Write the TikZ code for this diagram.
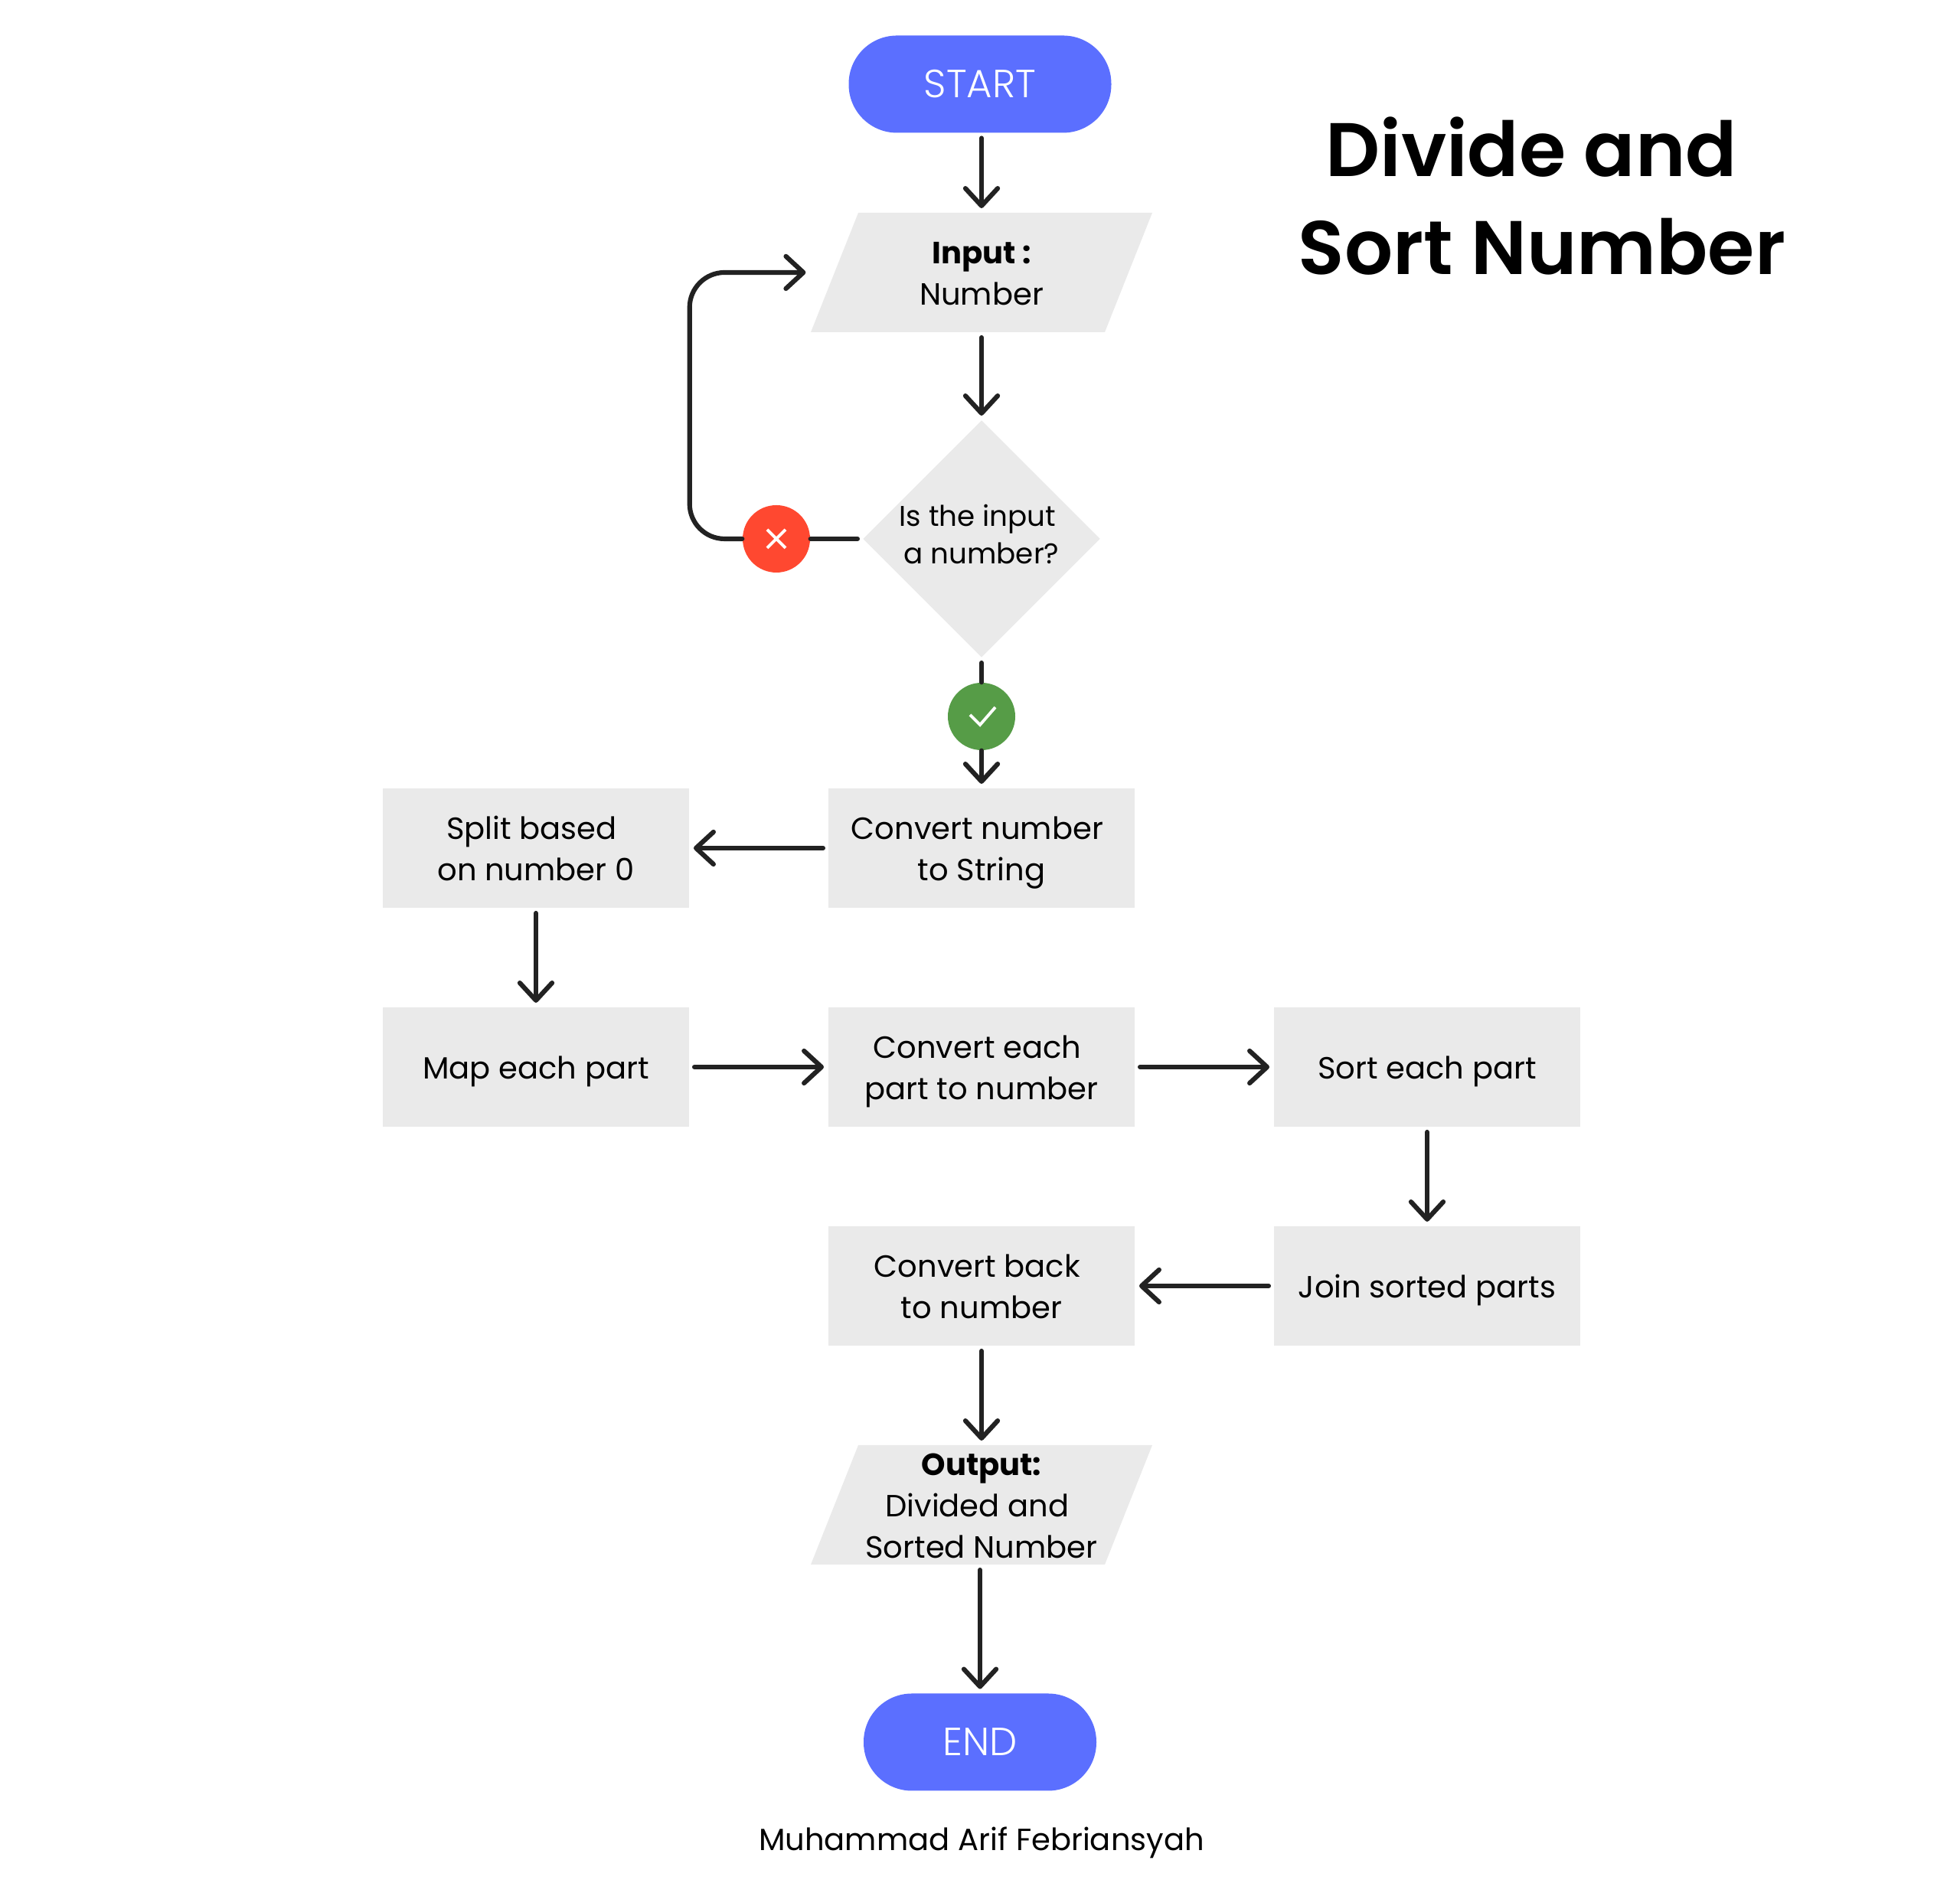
\documentclass[tikz,border=0pt]{standalone}
\usepackage{fontspec}
\setmainfont{Poppins}
\newfontfamily\pillfont{Poppins Light}
\newfontfamily\titlefont{Poppins SemiBold}
\usetikzlibrary{shapes.geometric,arrows.meta}
\definecolor{pillblue}{HTML}{5B6FFF}
\definecolor{boxgray}{HTML}{EAEAEA}
\definecolor{linedark}{HTML}{222222}
\definecolor{nored}{HTML}{FF4830}
\definecolor{yesgreen}{HTML}{569C47}
\newcommand{\trailgap}{\kern.28em}
\newcommand{\topline}{\vrule width0pt height 12.2pt depth 0pt}
\newcommand{\botline}{\vrule width0pt height 0pt depth 3.5pt}
\tikzset{
    flowtext/.style={text=black,align=center,inner sep=0,font=\fontsize{11.4}{15.4}\selectfont},
    pill/.style={flowtext,fill=pillblue,text=white,rounded corners=6.3mm,minimum height=1.27cm,font=\fontsize{14.6}{16}\selectfont\pillfont},
    procbox/.style={flowtext,fill=boxgray,minimum width=4cm,minimum height=1.56cm},
    iobox/.style={flowtext,inner ysep=-2.5pt,minimum width=3.84cm,minimum height=1.56cm},
    decisionbox/.style={flowtext,fill=boxgray,diamond,inner sep=-2pt,minimum width=3.1cm,minimum height=3.1cm,font=\fontsize{10.6}{14}\selectfont},
    badge/.style={circle,inner sep=0,minimum size=0.88cm},
    flowline/.style={draw=linedark,line width=1.75pt,line cap=round,shorten <=1.8pt},
    flowarrow/.style={flowline,-{Straight Barb[length=6.5pt,width=12pt,round]},shorten >=1.5pt},
    badgemark/.style={draw=white,line width=1.1pt},
}
\begin{document}
\begin{tikzpicture}
    \useasboundingbox (0,0) rectangle (25.6,24.6);
    \pgfmathsetmacro{\midcol}{12.82}
    \pgfmathsetmacro{\leftcol}{7.00}
    \pgfmathsetmacro{\rightcol}{18.64}
    \pgfmathsetmacro{\rowone}{13.52}
    \pgfmathsetmacro{\rowtwo}{10.66}
    \pgfmathsetmacro{\rowthree}{7.80}
    \pgfmathsetmacro{\iohalf}{1.92}
    \pgfmathsetmacro{\ioslant}{0.31}
    \pgfmathsetmacro{\iorise}{0.78}
    % slanted input and output boxes
    \foreach \ioy in {21.04,4.94} {
        \fill[boxgray] (\midcol-\iohalf-\ioslant,\ioy-\iorise) -- (\midcol-\iohalf+\ioslant,\ioy+\iorise)
            -- (\midcol+\iohalf+\ioslant,\ioy+\iorise) -- (\midcol+\iohalf-\ioslant,\ioy-\iorise) -- cycle;
    }
    \node[pill,minimum width=3.43cm] (start) at (12.80,23.50) {START};
    \node[iobox] (input) at (\midcol,21.04) {\topline\textbf{Input :}\\Number\botline};
    \node[decisionbox] (isnumber) at (\midcol,17.56) {Is the input\trailgap\\a number?\botline};
    \node[badge,fill=nored] (nofail) at (10.14,17.56) {};
    \node[badge,fill=yesgreen] (yespass) at (\midcol,15.24) {};
    \node[procbox] (tostring) at (\midcol,\rowone) {\topline Convert number\trailgap\\to String\botline};
    \node[procbox] (split) at (\leftcol,\rowone) {\topline Split based\trailgap\\on number 0\botline};
    \node[procbox] (mapparts) at (\leftcol,\rowtwo) {\topline Map each part\botline};
    \node[procbox] (tonumber) at (\midcol,\rowtwo) {\topline Convert each\trailgap\\part to number\botline};
    \node[procbox] (sortparts) at (\rightcol,\rowtwo) {\topline Sort each part\botline};
    \node[procbox] (joinparts) at (\rightcol,\rowthree) {\topline Join sorted parts\botline};
    \node[procbox] (backnumber) at (\midcol,\rowthree) {\topline Convert back\trailgap\\to number\botline};
    \node[iobox] (output) at (\midcol,4.94) {\topline\textbf{Output:}\\Divided and\trailgap\\Sorted Number\botline};
    \node[pill,minimum width=3.04cm] (end) at (12.80,1.84) {END};
    \node[flowtext] (authorname) at (\midcol,0.53) {Muhammad Arif Febriansyah};
    \node[flowtext,font=\fontsize{28.2}{36.5}\selectfont\titlefont] (title) at (20.14,22.04) {Divide and\trailgap\\Sort Number};
    \coordinate (loopleft) at (split.east |- isnumber.west);
    \draw[flowarrow] (input |- start.south) -- (input.north);
    \draw[flowarrow] (input) -- (isnumber);
    \draw[flowline] (isnumber.west) -- (nofail.east);
    \draw[flowarrow,rounded corners=13pt,shorten <=0pt,shorten >=10.5pt] (nofail.west) -- (loopleft) |- (input.west);
    \draw[flowline] (isnumber.south) -- (yespass.north);
    \draw[flowarrow,shorten <=0pt] (yespass.south) -- (tostring.north);
    \draw[flowarrow] (tostring) -- (split);
    \draw[flowarrow] (split) -- (mapparts);
    \draw[flowarrow] (mapparts) -- (tonumber);
    \draw[flowarrow] (tonumber) -- (sortparts);
    \draw[flowarrow] (sortparts) -- (joinparts);
    \draw[flowarrow] (joinparts) -- (backnumber);
    \draw[flowarrow] (backnumber) -- (output);
    \draw[flowarrow] (end |- output.south) -- (end.north);
    \draw[badgemark] ([shift={(-0.12,0.12)}]nofail.center) -- ([shift={(0.12,-0.12)}]nofail.center);
    \draw[badgemark] ([shift={(-0.12,-0.12)}]nofail.center) -- ([shift={(0.12,0.12)}]nofail.center);
    \draw[badgemark] ([shift={(-0.15,0.02)}]yespass.center) -- ([shift={(-0.02,-0.11)}]yespass.center) -- ([shift={(0.18,0.12)}]yespass.center);
\end{tikzpicture}
\end{document}
